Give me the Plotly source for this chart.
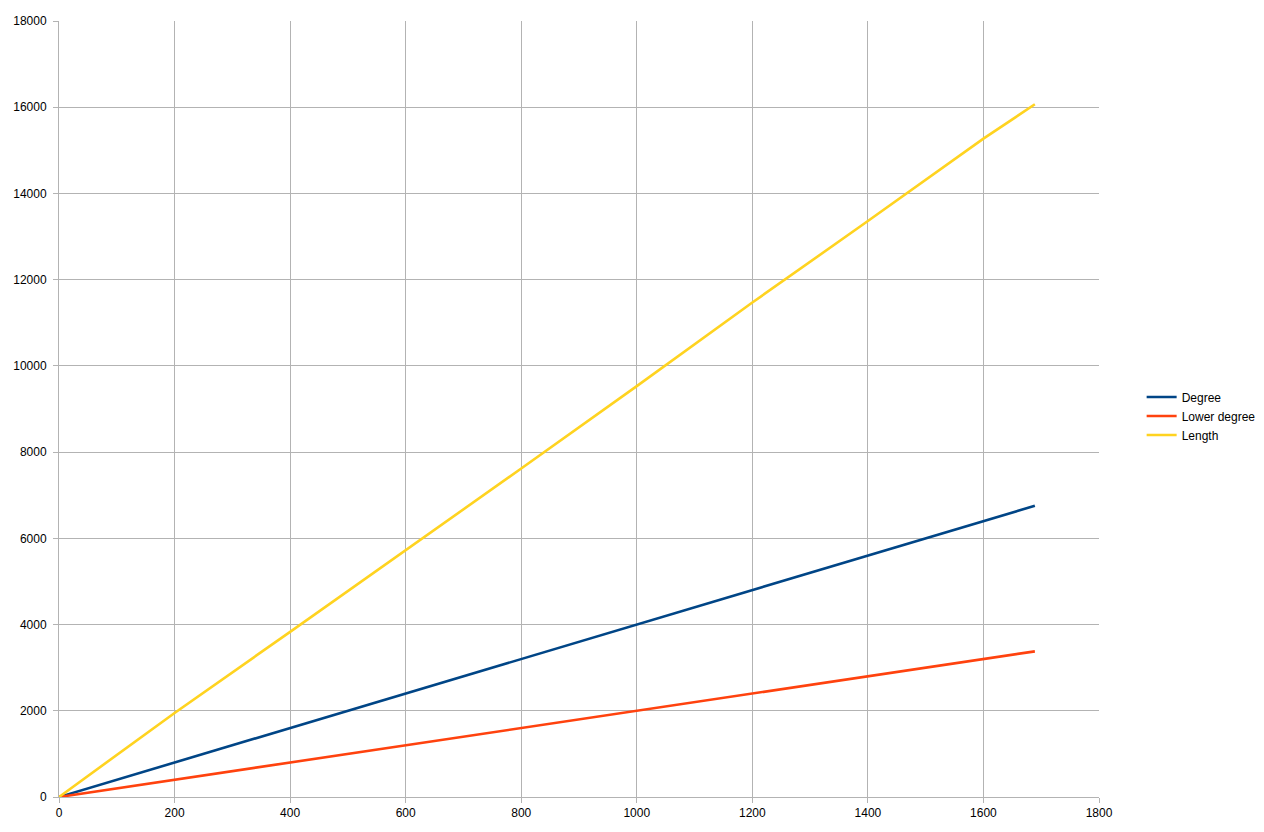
import plotly.graph_objects as go

x_vals = [0, 200, 400, 600, 800, 1000, 1200, 1400, 1600, 1689]
degree = [0, 800, 1600, 2400, 3200, 4000, 4800, 5600, 6400, 6756]
lower_degree = [0, 400, 800, 1200, 1600, 2000, 2400, 2800, 3200, 3378]
length = [0, 1950, 3830, 5720, 7620, 9530, 11470, 13360, 15270, 16068]

series_names = ["Degree", "Lower degree", "Length"]
colors = ["#004586", "#ff420e", "#ffd320"]

fig = go.Figure()
for name, ys, c in zip(series_names, [degree, lower_degree, length], colors):
    fig.add_trace(go.Scatter(x=x_vals, y=ys, mode="lines", name=name,
                             line=dict(color=c, width=2.6)))

axis_common = dict(showgrid=True, gridcolor="#b3b3b3", gridwidth=1,
                   showline=True, linecolor="#b3b3b3", linewidth=1,
                   zeroline=False, ticks="outside", ticklen=5,
                   tickcolor="#b3b3b3", tickfont=dict(size=12, color="#000000",
                                                       family="Liberation Sans, Arial, sans-serif"),
                   tickformat="d", mirror=False)

fig.update_layout(
    width=1264, height=832,
    margin=dict(l=59, r=165, t=21, b=35, autoexpand=False),
    paper_bgcolor="white", plot_bgcolor="white",
    font=dict(family="Liberation Sans, Arial, sans-serif", size=12, color="#000000"),
    xaxis=dict(range=[0, 1800], dtick=200, **axis_common),
    yaxis=dict(range=[0, 18000], dtick=2000, ticklabelstandoff=4, **axis_common),
    legend=dict(x=1.041, y=0.491, xanchor="left", yanchor="middle",
                font=dict(size=12), bgcolor="rgba(0,0,0,0)", tracegroupgap=0),
    showlegend=True,
)

fig.write_html("out.html", config={"displayModeBar": False},
               post_script="document.body.style.margin='0';")
